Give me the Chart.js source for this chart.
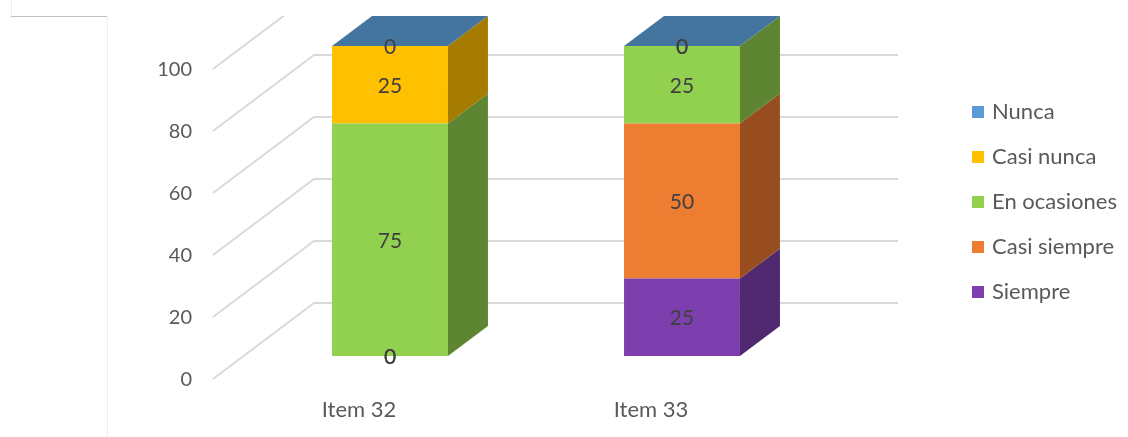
<!DOCTYPE html>
<html>
<head>
<meta charset="utf-8">
<script src="https://cdn.jsdelivr.net/npm/chart.js@4/dist/chart.umd.min.js"></script>
<style>
  html, body { margin: 0; padding: 0; background: #fff; }
  canvas { display: block; }
</style>
</head>
<body>
<canvas id="chart" width="1128" height="437"></canvas>
<script>
// survey answers per item, in percent
const categories = ['Item 32', 'Item 33'];
const nunca = [0, 0];
const casiNunca = [25, 0];
const enOcasiones = [75, 25];
const casiSiempre = [0, 50];
const siempre = [0, 25];
const yTicks = [0, 20, 40, 60, 80, 100];

// front / side colours per series
const colors = {
  'Nunca':        { front: '#5B9BD5', side: '#3F6E98', top: '#44759F' },
  'Casi nunca':   { front: '#FFC000', side: '#A67C00', top: '#C79600' },
  'En ocasiones': { front: '#92D050', side: '#5E8532', top: '#74A63F' },
  'Casi siempre': { front: '#ED7D31', side: '#984D1E', top: '#BC6226' },
  'Siempre':      { front: '#7E3FAE', side: '#50286F', top: '#643289' }
};

// stacked bottom to top
const series = [
  { label: 'Siempre', data: siempre },
  { label: 'Casi siempre', data: casiSiempre },
  { label: 'En ocasiones', data: enOcasiones },
  { label: 'Casi nunca', data: casiNunca },
  { label: 'Nunca', data: nunca }
];
const legendOrder = ['Nunca', 'Casi nunca', 'En ocasiones', 'Casi siempre', 'Siempre'];

const FONT = 'Lato, "Open Sans", sans-serif';
const TEXT = '#595959';
// perspective offsets relative to the bar front plane
const FRONT = { dx: -31, dy: 23 };
const BACK = { dx: 70, dy: -53 };
const DEPTH = { dx: 40, dy: -30 };

const fakeThreeD = {
  id: 'fakeThreeD',
  beforeDatasetsDraw(chart) {
    const { ctx, chartArea: a, scales: { x, y } } = chart;
    ctx.save();
    // page frame bits around the chart
    ctx.lineWidth = 1;
    ctx.strokeStyle = '#C0C0C0';
    ctx.beginPath(); ctx.moveTo(11, 16.5); ctx.lineTo(107, 16.5); ctx.stroke();
    ctx.strokeStyle = '#EDEDED';
    ctx.beginPath(); ctx.moveTo(107.5, 16); ctx.lineTo(107.5, 437); ctx.stroke();
    ctx.beginPath(); ctx.moveTo(11.5, 0); ctx.lineTo(11.5, 16); ctx.stroke();

    ctx.beginPath();
    ctx.rect(0, 16, chart.width, chart.height - 16);
    ctx.clip();
    ctx.strokeStyle = '#D9D9D9';
    ctx.lineWidth = 2;
    yTicks.forEach(v => {
      const py = y.getPixelForValue(v);
      ctx.beginPath();
      ctx.moveTo(a.left + FRONT.dx, py + FRONT.dy);
      ctx.lineTo(a.left + BACK.dx, py + BACK.dy);
      ctx.lineTo(a.right + BACK.dx, py + BACK.dy);
      ctx.stroke();
    });
    ctx.restore();

    // axis labels on the front plane
    ctx.save();
    ctx.fillStyle = TEXT;
    ctx.font = '20px ' + FONT;
    ctx.textAlign = 'right';
    ctx.textBaseline = 'middle';
    yTicks.forEach(v => {
      ctx.fillText(String(v), a.left + FRONT.dx - 21, y.getPixelForValue(v) + FRONT.dy + 1);
    });
    ctx.font = '22px ' + FONT;
    ctx.textAlign = 'center';
    categories.forEach((c, i) => {
      ctx.fillText(c, x.getPixelForValue(i) + FRONT.dx, a.bottom + 54);
    });
    ctx.restore();
  },
  afterDatasetsDraw(chart) {
    const { ctx } = chart;
    const n = chart.data.datasets.length;
    ctx.save();
    chart.data.datasets.forEach((ds, di) => {
      const col = colors[ds.label];
      chart.getDatasetMeta(di).data.forEach(bar => {
        const p = bar.getProps(['x', 'y', 'base', 'width'], true);
        const left = p.x - p.width / 2, right = p.x + p.width / 2;
        ctx.fillStyle = col.side;
        ctx.beginPath();
        ctx.moveTo(right, p.y);
        ctx.lineTo(right + DEPTH.dx, p.y + DEPTH.dy);
        ctx.lineTo(right + DEPTH.dx, p.base + DEPTH.dy);
        ctx.lineTo(right, p.base);
        ctx.closePath();
        ctx.fill();
        if (di === n - 1) {
          ctx.fillStyle = col.top;
          ctx.beginPath();
          ctx.moveTo(left, p.y);
          ctx.lineTo(left + DEPTH.dx, p.y + DEPTH.dy);
          ctx.lineTo(right + DEPTH.dx, p.y + DEPTH.dy);
          ctx.lineTo(right, p.y);
          ctx.closePath();
          ctx.fill();
        }
      });
    });

    // value labels in the middle of each segment
    ctx.fillStyle = '#404040';
    ctx.font = '21px ' + FONT;
    ctx.textAlign = 'center';
    ctx.textBaseline = 'middle';
    chart.data.datasets.forEach((ds, di) => {
      chart.getDatasetMeta(di).data.forEach((bar, i) => {
        const p = bar.getProps(['x', 'y', 'base'], true);
        ctx.fillText(String(ds.data[i]), p.x, (p.y + p.base) / 2 + 1);
      });
    });
    ctx.restore();
  },
  afterDraw(chart) {
    const { ctx } = chart;
    ctx.save();
    ctx.font = '22px ' + FONT;
    ctx.textBaseline = 'middle';
    legendOrder.forEach((name, i) => {
      const cy = 112 + i * 45;
      ctx.fillStyle = colors[name].front;
      ctx.fillRect(972, cy - 6, 12, 12);
      ctx.fillStyle = TEXT;
      ctx.fillText(name, 992, cy);
    });
    ctx.restore();
  }
};

new Chart(document.getElementById('chart'), {
  type: 'bar',
  data: {
    labels: categories,
    datasets: series.map(s => ({
      label: s.label,
      data: s.data,
      backgroundColor: colors[s.label].front,
      borderWidth: 0,
      categoryPercentage: 1,
      barPercentage: 0.397
    }))
  },
  options: {
    responsive: false,
    animation: false,
    layout: { padding: { left: 244, right: 300, top: 46, bottom: 81 } },
    plugins: { legend: { display: false }, tooltip: { enabled: false } },
    scales: {
      x: { stacked: true, display: false },
      y: { stacked: true, display: false, min: 0, max: 100 }
    }
  },
  plugins: [fakeThreeD]
});
</script>
</body>
</html>
